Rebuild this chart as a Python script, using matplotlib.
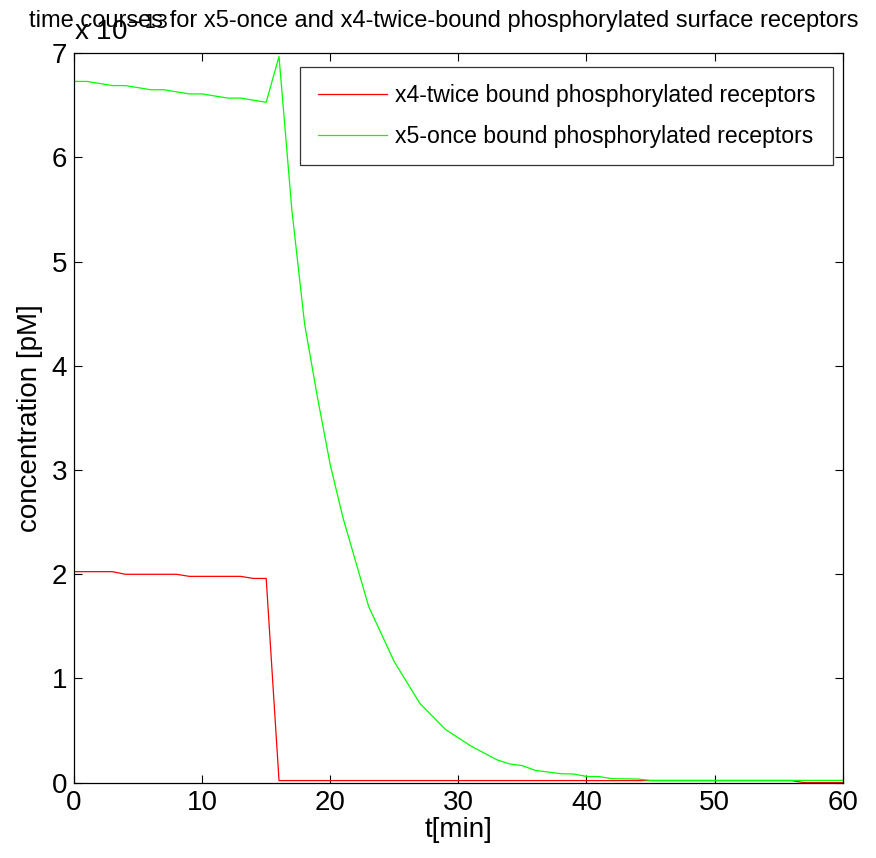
import numpy as np
import matplotlib.pyplot as plt

plt.rcParams['font.family'] = ['Liberation Sans', 'DejaVu Sans']

# time [min]
t_x4 = [0, 3, 4, 8, 9, 13, 14, 15, 16, 56, 57, 60]
# x4-twice bound phosphorylated receptors (units of 1e-13 pM)
c_x4 = [2.025, 2.025, 2.0, 2.0, 1.98, 1.98, 1.96, 1.96, 0.02, 0.02, 0.0, 0.0]

t_x5 = [0, 1, 3, 4, 6, 7, 9, 10, 12, 13, 15, 16, 17, 18, 19, 20, 21, 23, 25,
        27, 29, 31, 33, 34, 35, 36, 38, 39, 40, 41, 42, 44, 45, 56, 60]
# x5-once bound phosphorylated receptors (units of 1e-13 pM)
c_x5 = [6.73, 6.73, 6.69, 6.69, 6.65, 6.65, 6.61, 6.61, 6.57, 6.57, 6.53, 6.97,
        5.5, 4.4, 3.7, 3.05, 2.54, 1.69, 1.16, 0.76, 0.51, 0.35, 0.22, 0.18,
        0.163, 0.118, 0.086, 0.083, 0.06, 0.058, 0.038, 0.035, 0.022, 0.022, 0.022]

scale = 1e-13

fig = plt.figure(figsize=(8.76, 8.58), dpi=100)
ax = fig.add_axes([0.0845, 0.0878, 0.8775, 0.8501])

ax.plot(t_x4, np.array(c_x4) * scale, color='#ff0000', lw=0.9,
        label='x4-twice bound phosphorylated receptors')
ax.plot(t_x5, np.array(c_x5) * scale, color='#00ff00', lw=0.9,
        label='x5-once bound phosphorylated receptors')

ax.set_xlim(0, 60)
ax.set_ylim(0, 7 * scale)
ax.set_xticks([0, 10, 20, 30, 40, 50, 60])
ax.set_yticks(np.arange(0, 8) * scale)
ax.set_yticklabels([str(i) for i in range(8)])
ax.tick_params(direction='in', length=6, width=0.8, top=True, right=True,
               labelsize=20, pad=5)
for s in ax.spines.values():
    s.set_linewidth(0.9)

ax.set_xlabel('t[min]', fontsize=20, labelpad=1)
ax.set_ylabel('concentration [pM]', fontsize=20, labelpad=6)

ax.text(0.0, 1.01, r'x 10$^{-13}$', transform=ax.transAxes, fontsize=20,
        ha='left', va='bottom')
fig.text(0.506, 0.988,
         'time courses for x5-once and x4-twice-bound phosphorylated surface receptors',
         fontsize=17, ha='center', va='top')

leg = ax.legend(loc='upper right', bbox_to_anchor=(0.987, 0.981), fontsize=16.6,
                frameon=True, fancybox=False, edgecolor='black',
                handlelength=3.0, handletextpad=0.35, borderpad=0.75,
                labelspacing=0.75, borderaxespad=0)
leg.get_frame().set_linewidth(0.9)

fig.savefig('out.png', dpi=100)
